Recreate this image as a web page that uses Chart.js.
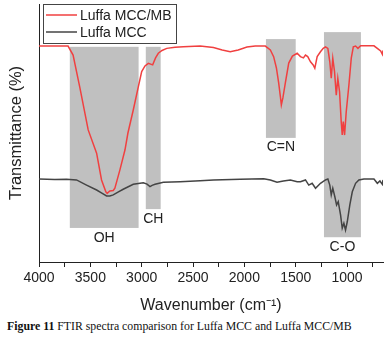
<!DOCTYPE html>
<html>
<head>
<meta charset="utf-8">
<script src="https://cdn.jsdelivr.net/npm/chart.js@4"></script>
<style>
  html, body { margin: 0; padding: 0; background: #fff; }
  #wrap { position: relative; width: 388px; height: 316px; }
  .caption { font-family: 'Liberation Serif', serif; font-size: 11.8px; color: #111; margin: 3px 0 0 7px; white-space: nowrap; }
</style>
</head>
<body>
<div id="wrap"><canvas id="ftirChart"></canvas></div>
<div class="caption"><b>Figure 11</b> FTIR spectra comparison for Luffa MCC and Luffa MCC/MB</div>
<script>
// Luffa MCC/MB (red)
const mbWavenumber = [4000, 3847, 3717, 3668, 3603, 3521, 3439, 3391, 3349, 3336, 3310, 3277, 3261, 3212, 3163, 3134,
  3082, 3033, 3000, 2968, 2935, 2893, 2865, 2838, 2802, 2756, 2675, 2594, 2431, 2301, 2216, 2138, 2060, 1975, 1894,
  1796, 1747, 1715, 1688, 1666, 1649, 1640, 1625, 1601, 1568, 1532, 1486, 1454, 1425, 1405, 1383, 1356, 1330, 1314,
  1291, 1259, 1232, 1210, 1187, 1168, 1154, 1139, 1122, 1105, 1090, 1073, 1057, 1047, 1037, 1024, 1008, 982, 959,
  939, 917, 894, 868, 738, 699, 673, 656, 650];
const mbTransmittance = [83.7, 83.7, 83.7, 80.2, 67.8, 51.2, 42.2, 31.8, 27.2, 26.6, 27.5, 27.7, 28.6, 35.7, 43.4, 50.0,
  58.9, 67.9, 73.8, 76.0, 77.0, 76.4, 79.1, 80.9, 82.0, 82.8, 83.2, 83.4, 83.7, 83.1, 82.2, 81.5, 82.2, 83.3, 83.7,
  83.7, 82.2, 79.6, 75.2, 69.4, 64.0, 60.9, 63.6, 69.4, 77.1, 79.8, 80.9, 79.6, 79.1, 80.2, 79.6, 77.6, 76.4, 75.1,
  79.6, 81.5, 82.8, 83.4, 82.8, 77.6, 71.2, 79.0, 73.8, 64.7, 71.2, 66.0, 54.4, 49.2, 54.4, 49.2, 58.3, 68.6, 79.0,
  83.4, 83.7, 82.8, 83.8, 83.8, 82.6, 81.8, 80.5, 82.0];

// Luffa MCC (dark grey)
const mccWavenumber = [4000, 3847, 3732, 3635, 3537, 3439, 3388, 3342, 3310, 3277, 3231, 3180, 3082, 2984, 2948, 2919,
  2899, 2870, 2789, 2626, 2431, 2301, 2040, 1812, 1747, 1682, 1620, 1552, 1486, 1454, 1405, 1373, 1340, 1307, 1259,
  1210, 1187, 1168, 1154, 1139, 1119, 1102, 1086, 1063, 1047, 1031, 1015, 998, 973, 949, 917, 885, 836, 738, 705,
  680, 656, 650];
const mccTransmittance = [32.2, 32.0, 32.1, 31.8, 29.8, 27.9, 26.7, 25.6, 25.6, 26.0, 27.1, 28.2, 30.1, 30.7, 30.2, 29.2,
  29.7, 30.1, 30.9, 31.1, 31.5, 31.8, 32.1, 32.3, 31.8, 30.9, 31.4, 31.8, 31.1, 31.1, 31.8, 29.8, 30.5, 28.6, 30.5,
  31.8, 32.2, 29.8, 26.0, 28.6, 25.3, 22.1, 23.4, 18.2, 13.1, 15.0, 12.4, 15.6, 22.1, 27.2, 30.5, 31.8, 32.2, 32.2, 30.5,
  31.4, 30.1, 31.8];

// shaded assignment bands
const bandNames = ['OH', 'CH', 'C=N', 'C-O'];
const bandFrom = [3700, 2960, 1790, 1225];
const bandTo = [3030, 2815, 1500, 865];
const bandTop = [83.4, 83.4, 86.4, 89.1];
const bandBottom = [13.2, 20.5, 48.1, 9.6];
const bandLabelAt = [9.3, 16.7, 44.6, 5.8];

const xTickValues = [4000, 3750, 3500, 3250, 3000, 2750, 2500, 2250, 2000, 1750, 1500, 1250, 1000, 750];

const font = "'Liberation Sans', Arial, sans-serif";

const bandsPlugin = {
    id: 'bands',
    beforeDatasetsDraw(chart) {
        const { ctx, scales: { x, y } } = chart;
        ctx.save();
        ctx.fillStyle = '#c0c0c0';
        bandNames.forEach((name, i) => {
            const x1 = x.getPixelForValue(bandFrom[i]);
            const x2 = x.getPixelForValue(bandTo[i]);
            const y1 = y.getPixelForValue(bandTop[i]);
            const y2 = y.getPixelForValue(bandBottom[i]);
            ctx.fillRect(x1, y1, x2 - x1, y2 - y1);
        });
        ctx.fillStyle = '#222';
        ctx.font = '14px ' + font;
        ctx.textAlign = 'center';
        ctx.textBaseline = 'middle';
        bandNames.forEach((name, i) => {
            const cx = x.getPixelForValue((bandFrom[i] + bandTo[i]) / 2);
            ctx.fillText(name, cx, y.getPixelForValue(bandLabelAt[i]));
        });
        ctx.restore();
    }
};

const legendPlugin = {
    id: 'boxLegend',
    afterDraw(chart) {
        const { ctx, chartArea } = chart;
        const left = chartArea.left + 4, top = chartArea.top;
        const w = 133, h = 39;
        ctx.save();
        ctx.fillStyle = '#fff';
        ctx.fillRect(left, top, w, h);
        ctx.strokeStyle = '#444';
        ctx.lineWidth = 1;
        ctx.strokeRect(left + 0.5, top + 0.5, w, h);
        ctx.font = '14px ' + font;
        ctx.textBaseline = 'middle';
        chart.data.datasets.forEach((ds, i) => {
            const ly = top + 11 + i * 17;
            ctx.strokeStyle = ds.borderColor;
            ctx.lineWidth = 1.5;
            ctx.beginPath();
            ctx.moveTo(left + 3, ly);
            ctx.lineTo(left + 34, ly);
            ctx.stroke();
            ctx.fillStyle = '#222';
            ctx.fillText(ds.label, left + 37, ly + 1);
        });
        ctx.restore();
    }
};

new Chart(document.getElementById('ftirChart'), {
    type: 'line',
    data: {
        datasets: [{
            label: 'Luffa MCC/MB',
            data: mbWavenumber.map((w, i) => ({ x: w, y: mbTransmittance[i] })),
            borderColor: '#f04040',
            borderWidth: 1.5,
            pointRadius: 0,
            tension: 0
        }, {
            label: 'Luffa MCC',
            data: mccWavenumber.map((w, i) => ({ x: w, y: mccTransmittance[i] })),
            borderColor: '#444444',
            borderWidth: 1.5,
            pointRadius: 0,
            tension: 0
        }]
    },
    options: {
        responsive: true,
        maintainAspectRatio: false,
        animation: false,
        layout: { padding: { top: 4, right: 5, left: 0, bottom: 0 } },
        plugins: { legend: { display: false }, tooltip: { enabled: false } },
        scales: {
            x: {
                type: 'linear',
                reverse: true,
                min: 650,
                max: 4000,
                afterBuildTicks: (s) => { s.ticks = xTickValues.map(v => ({ value: v })); },
                afterFit: (s) => { s.height = 54; },
                ticks: {
                    autoSkip: false,
                    maxRotation: 0,
                    padding: 3,
                    color: '#222',
                    font: { family: font, size: 14 },
                    callback: (v) => (v % 500 === 0 ? v : '')
                },
                grid: { drawOnChartArea: false, tickLength: 5, tickColor: '#222' },
                border: { display: true, color: '#222', width: 1 },
                title: {
                    display: true,
                    text: 'Wavenumber (cm⁻¹)',
                    color: '#222',
                    font: { family: font, size: 16 },
                    padding: { top: 0, bottom: 1 }
                }
            },
            y: {
                min: 0,
                max: 100,
                afterFit: (s) => { s.width = 39; },
                ticks: { display: false },
                grid: { display: false },
                border: { display: true, color: '#222', width: 1 },
                title: {
                    display: true,
                    text: 'Transmittance (%)',
                    color: '#222',
                    font: { family: font, size: 16.5 },
                    padding: { top: 7, bottom: 0 }
                }
            }
        }
    },
    plugins: [bandsPlugin, legendPlugin]
});
</script>
</body>
</html>
